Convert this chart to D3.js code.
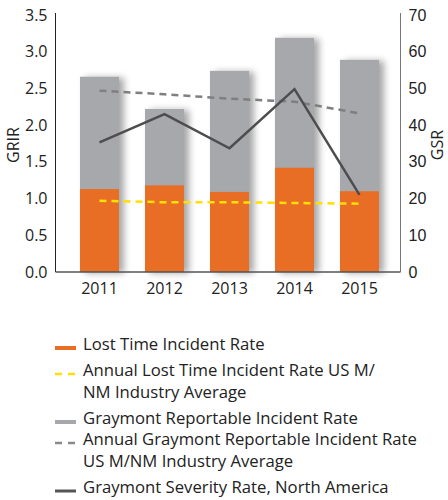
<!DOCTYPE html>
<html>
<head>
<meta charset="utf-8">
<script src="https://cdn.jsdelivr.net/npm/d3@7"></script>
<style>
  body { margin: 0; background: #fff; }
  svg { display: block; font-family: 'Open Sans', sans-serif; }
</style>
</head>
<body>
<div id="chart"></div>
<script>
var years = ['2011', '2012', '2013', '2014', '2015'];
var ltir = [1.13, 1.18, 1.09, 1.42, 1.10];
var grir = [2.66, 2.22, 2.74, 3.19, 2.89];
var ltirAvg = [0.97, 0.95, 0.95, 0.94, 0.93];
var grirAvg = [2.47, 2.42, 2.36, 2.32, 2.16];
var severity = [35.3, 43.0, 33.7, 49.8, 21.0];
var leftTicks = [0, 0.5, 1.0, 1.5, 2.0, 2.5, 3.0, 3.5];
var rightTicks = [0, 10, 20, 30, 40, 50, 60, 70];

var legendItems = [
  { type: 'rect', color: '#e86e25', lines: ['Lost Time Incident Rate'] },
  { type: 'dash', color: '#ffe000', lines: ['Annual Lost Time Incident Rate US M/', 'NM Industry Average'] },
  { type: 'rect', color: '#a7a8ab', lines: ['Graymont Reportable Incident Rate'] },
  { type: 'dash', color: '#8a8a8a', lines: ['Annual Graymont Reportable Incident Rate', 'US M/NM Industry Average'] },
  { type: 'line', color: '#555555', lines: ['Graymont Severity Rate, North America'] }
];

var width = 448, height = 500;
var plotLeft = 55.5, plotRight = 400.5, plotTop = 15, plotBottom = 272;

var svg = d3.select('#chart').append('svg')
  .attr('width', width)
  .attr('height', height);

var defs = svg.append('defs');
var shadow = defs.append('filter')
  .attr('id', 'shadow')
  .attr('x', '-20%').attr('y', '-5%')
  .attr('width', '160%').attr('height', '110%');
shadow.append('feGaussianBlur').attr('in', 'SourceAlpha').attr('stdDeviation', 3.5);
shadow.append('feOffset').attr('dx', 5).attr('dy', 1).attr('result', 'blur');
shadow.append('feComponentTransfer').append('feFuncA').attr('type', 'linear').attr('slope', 0.35);
var merge = shadow.append('feMerge');
merge.append('feMergeNode');
merge.append('feMergeNode').attr('in', 'SourceGraphic');

var x = d3.scaleBand()
  .domain(years)
  .range([67, 392])
  .paddingInner(0.4)
  .paddingOuter(0.2);
var yL = d3.scaleLinear().domain([0, 3.5]).range([plotBottom, plotTop]);
var yR = d3.scaleLinear().domain([0, 70]).range([plotBottom, plotTop]);

var data = years.map(function(y, i) {
  return { year: y, ltir: ltir[i], grir: grir[i], ltirAvg: ltirAvg[i], grirAvg: grirAvg[i], sev: severity[i] };
});

// gray bars behind orange
var bars = svg.append('g').attr('filter', 'url(#shadow)');
bars.selectAll('rect.grir')
    .data(data)
  .enter().append('rect')
    .attr('class', 'grir')
    .attr('x', function(d) { return x(d.year); })
    .attr('y', function(d) { return yL(d.grir); })
    .attr('width', x.bandwidth())
    .attr('height', function(d) { return plotBottom - yL(d.grir); })
    .attr('fill', '#a7a8ab');

bars.selectAll('rect.ltir')
    .data(data)
  .enter().append('rect')
    .attr('class', 'ltir')
    .attr('x', function(d) { return x(d.year); })
    .attr('y', function(d) { return yL(d.ltir); })
    .attr('width', x.bandwidth())
    .attr('height', function(d) { return plotBottom - yL(d.ltir); })
    .attr('fill', '#e86e25');

var cx = function(d) { return x(d.year) + x.bandwidth() / 2; };

svg.append('path')
  .datum(data)
  .attr('fill', 'none')
  .attr('stroke', '#ffe000')
  .attr('stroke-width', 2.5)
  .attr('stroke-dasharray', '7,5')
  .attr('d', d3.line().x(cx).y(function(d) { return yL(d.ltirAvg); }));

svg.append('path')
  .datum(data)
  .attr('fill', 'none')
  .attr('stroke', '#7f7f80')
  .attr('stroke-width', 2.5)
  .attr('stroke-dasharray', '7,5')
  .attr('d', d3.line().x(cx).y(function(d) { return yL(d.grirAvg); }));

svg.append('path')
  .datum(data)
  .attr('fill', 'none')
  .attr('stroke', '#4d4d4f')
  .attr('stroke-width', 2.5)
  .attr('d', d3.line().x(cx).y(function(d) { return yR(d.sev); }));

// axes
var axisL = svg.append('g')
  .attr('transform', 'translate(' + plotLeft + ',0)')
  .call(d3.axisLeft(yL).tickValues(leftTicks).tickFormat(d3.format('.1f')).tickSize(0).tickPadding(8));
axisL.select('.domain').attr('d', 'M0,13V' + plotBottom).attr('stroke', '#222');
axisL.selectAll('text').attr('font-size', 16).attr('fill', '#222').attr('font-family', "'Open Sans', sans-serif");

var axisR = svg.append('g')
  .attr('transform', 'translate(' + plotRight + ',0)')
  .call(d3.axisRight(yR).tickValues(rightTicks).tickSize(0).tickPadding(8));
axisR.select('.domain').attr('d', 'M0,13V' + plotBottom).attr('stroke', '#777');
axisR.selectAll('text').attr('font-size', 16).attr('fill', '#222').attr('font-family', "'Liberation Sans', sans-serif");

svg.append('line')
  .attr('x1', plotLeft).attr('x2', plotRight)
  .attr('y1', plotBottom).attr('y2', plotBottom)
  .attr('stroke', '#555').attr('stroke-width', 1.5);

var axisB = svg.append('g')
  .attr('transform', 'translate(0,' + plotBottom + ')')
  .call(d3.axisBottom(x).tickSize(0).tickPadding(11));
axisB.select('.domain').remove();
axisB.selectAll('text').attr('font-size', 16).attr('fill', '#222').attr('font-family', "'Open Sans', sans-serif");

svg.append('text')
  .attr('transform', 'translate(19,145) rotate(-90)')
  .attr('text-anchor', 'middle')
  .attr('font-size', 16)
  .attr('fill', '#222')
  .text('GRIR');

svg.append('text')
  .attr('transform', 'translate(443,145) rotate(-90)')
  .attr('text-anchor', 'middle')
  .attr('font-size', 16)
  .attr('fill', '#222')
  .text('GSR');

// legend
var legendY = [349, 375, 423, 444, 492];
var lineGap = 22;
var legend = svg.append('g');
legendItems.forEach(function(item, i) {
  var g = legend.append('g').attr('transform', 'translate(55,' + legendY[i] + ')');
  if(item.type == 'rect') {
    g.append('rect').attr('x', 0).attr('y', -3).attr('width', 21).attr('height', 4).attr('fill', item.color);
  } else if(item.type == 'dash') {
    g.append('line').attr('x1', 0).attr('x2', 21).attr('y1', -1).attr('y2', -1)
      .attr('stroke', item.color).attr('stroke-width', 2.5).attr('stroke-dasharray', '7,6');
  } else {
    g.append('line').attr('x1', 0).attr('x2', 21).attr('y1', -1).attr('y2', -1)
      .attr('stroke', item.color).attr('stroke-width', 3);
  }
  item.lines.forEach(function(t, j) {
    g.append('text')
      .attr('x', 28)
      .attr('y', j * lineGap + 1)
      .attr('font-size', 16.7)
      .attr('fill', '#222')
      .text(t);
  });
});
</script>
</body>
</html>
